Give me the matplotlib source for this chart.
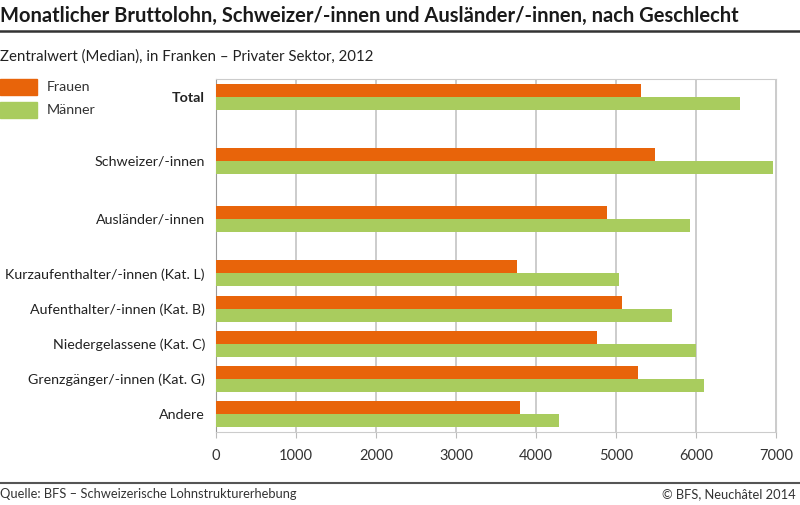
import numpy as np
import matplotlib.pyplot as plt

plt.rcParams['font.family'] = ['Lato', 'DejaVu Sans']

kategorien = ["Total", "Schweizer/-innen", "Ausländer/-innen",
              "Kurzaufenthalter/-innen (Kat. L)", "Aufenthalter/-innen (Kat. B)",
              "Niedergelassene (Kat. C)", "Grenzgänger/-innen (Kat. G)", "Andere"]
frauen = [5312, 5488, 4892, 3758, 5071, 4763, 5275, 3796]
maenner = [6553, 6963, 5925, 5038, 5704, 6000, 6104, 4284]
xticks = [0, 1000, 2000, 3000, 4000, 5000, 6000, 7000]

# Lage der Gruppen (von unten nach oben gezählt)
ypos = np.array([9.0, 7.2, 5.55, 4, 3, 2, 1, 0])
h = 0.37

orange = "#E8640A"
gruen = "#A9CC5E"

fig = plt.figure(figsize=(8, 5.05), dpi=100)
ax = fig.add_axes([0.27, 0.1446, 0.70, 0.699])

ax.barh(ypos + h / 2, frauen, height=h, color=orange, zorder=3)
ax.barh(ypos - h / 2, maenner, height=h, color=gruen, zorder=3)

ax.set_xlim(0, 7000)
ax.set_ylim(-0.5, 9.52)
ax.set_xticks(xticks)
ax.set_xticklabels([str(t) for t in xticks], fontsize=10.5, color="#333333")
ax.set_yticks(ypos)
ax.set_yticklabels(kategorien, fontsize=10.3, color="#222222")
ax.get_yticklabels()[0].set_fontweight("bold")
ax.tick_params(axis="y", length=0, pad=8)
ax.tick_params(axis="x", length=4, color="#bbbbbb", pad=8)
ax.grid(axis="x", color="#c4c4c4", linewidth=1.2, zorder=0)
for s in ["top", "bottom", "right"]:
    ax.spines[s].set_color("#cccccc")
ax.spines["left"].set_color("#999999")

# Titel und Linien
fig.text(0.0, 0.968, "Monatlicher Bruttolohn, Schweizer/-innen und Ausländer/-innen, nach Geschlecht",
         fontsize=14.5, fontweight="bold", color="#1a1a1a", va="center", ha="left")
fig.add_artist(plt.Line2D([0, 1], [0.938, 0.938], color="#333333", linewidth=1.8))
fig.text(0.0, 0.888, "Zentralwert (Median), in Franken – Privater Sektor, 2012",
         fontsize=10.8, color="#222222", va="center", ha="left")

# Legende
fig.patches.append(plt.Rectangle((0.0, 1 - 95 / 505), 37 / 800, 16 / 505, color=orange,
                                 transform=fig.transFigure, figure=fig))
fig.patches.append(plt.Rectangle((0.0, 1 - 118 / 505), 37 / 800, 16 / 505, color=gruen,
                                 transform=fig.transFigure, figure=fig))
fig.text(47 / 800, 1 - 87 / 505, "Frauen", fontsize=10.3, color="#333333", va="center")
fig.text(47 / 800, 1 - 110 / 505, "Männer", fontsize=10.3, color="#333333", va="center")

# Fusszeile
fig.add_artist(plt.Line2D([0, 1], [1 - 483 / 505, 1 - 483 / 505], color="#555555", linewidth=1.5))
fig.text(0.0, 1 - 494 / 505, "Quelle: BFS – Schweizerische Lohnstrukturerhebung",
         fontsize=9.3, color="#333333", va="center")
fig.text(0.995, 1 - 494 / 505, "© BFS, Neuchâtel 2014",
         fontsize=9.3, color="#333333", va="center", ha="right")

fig.savefig("out.png", dpi=100)
